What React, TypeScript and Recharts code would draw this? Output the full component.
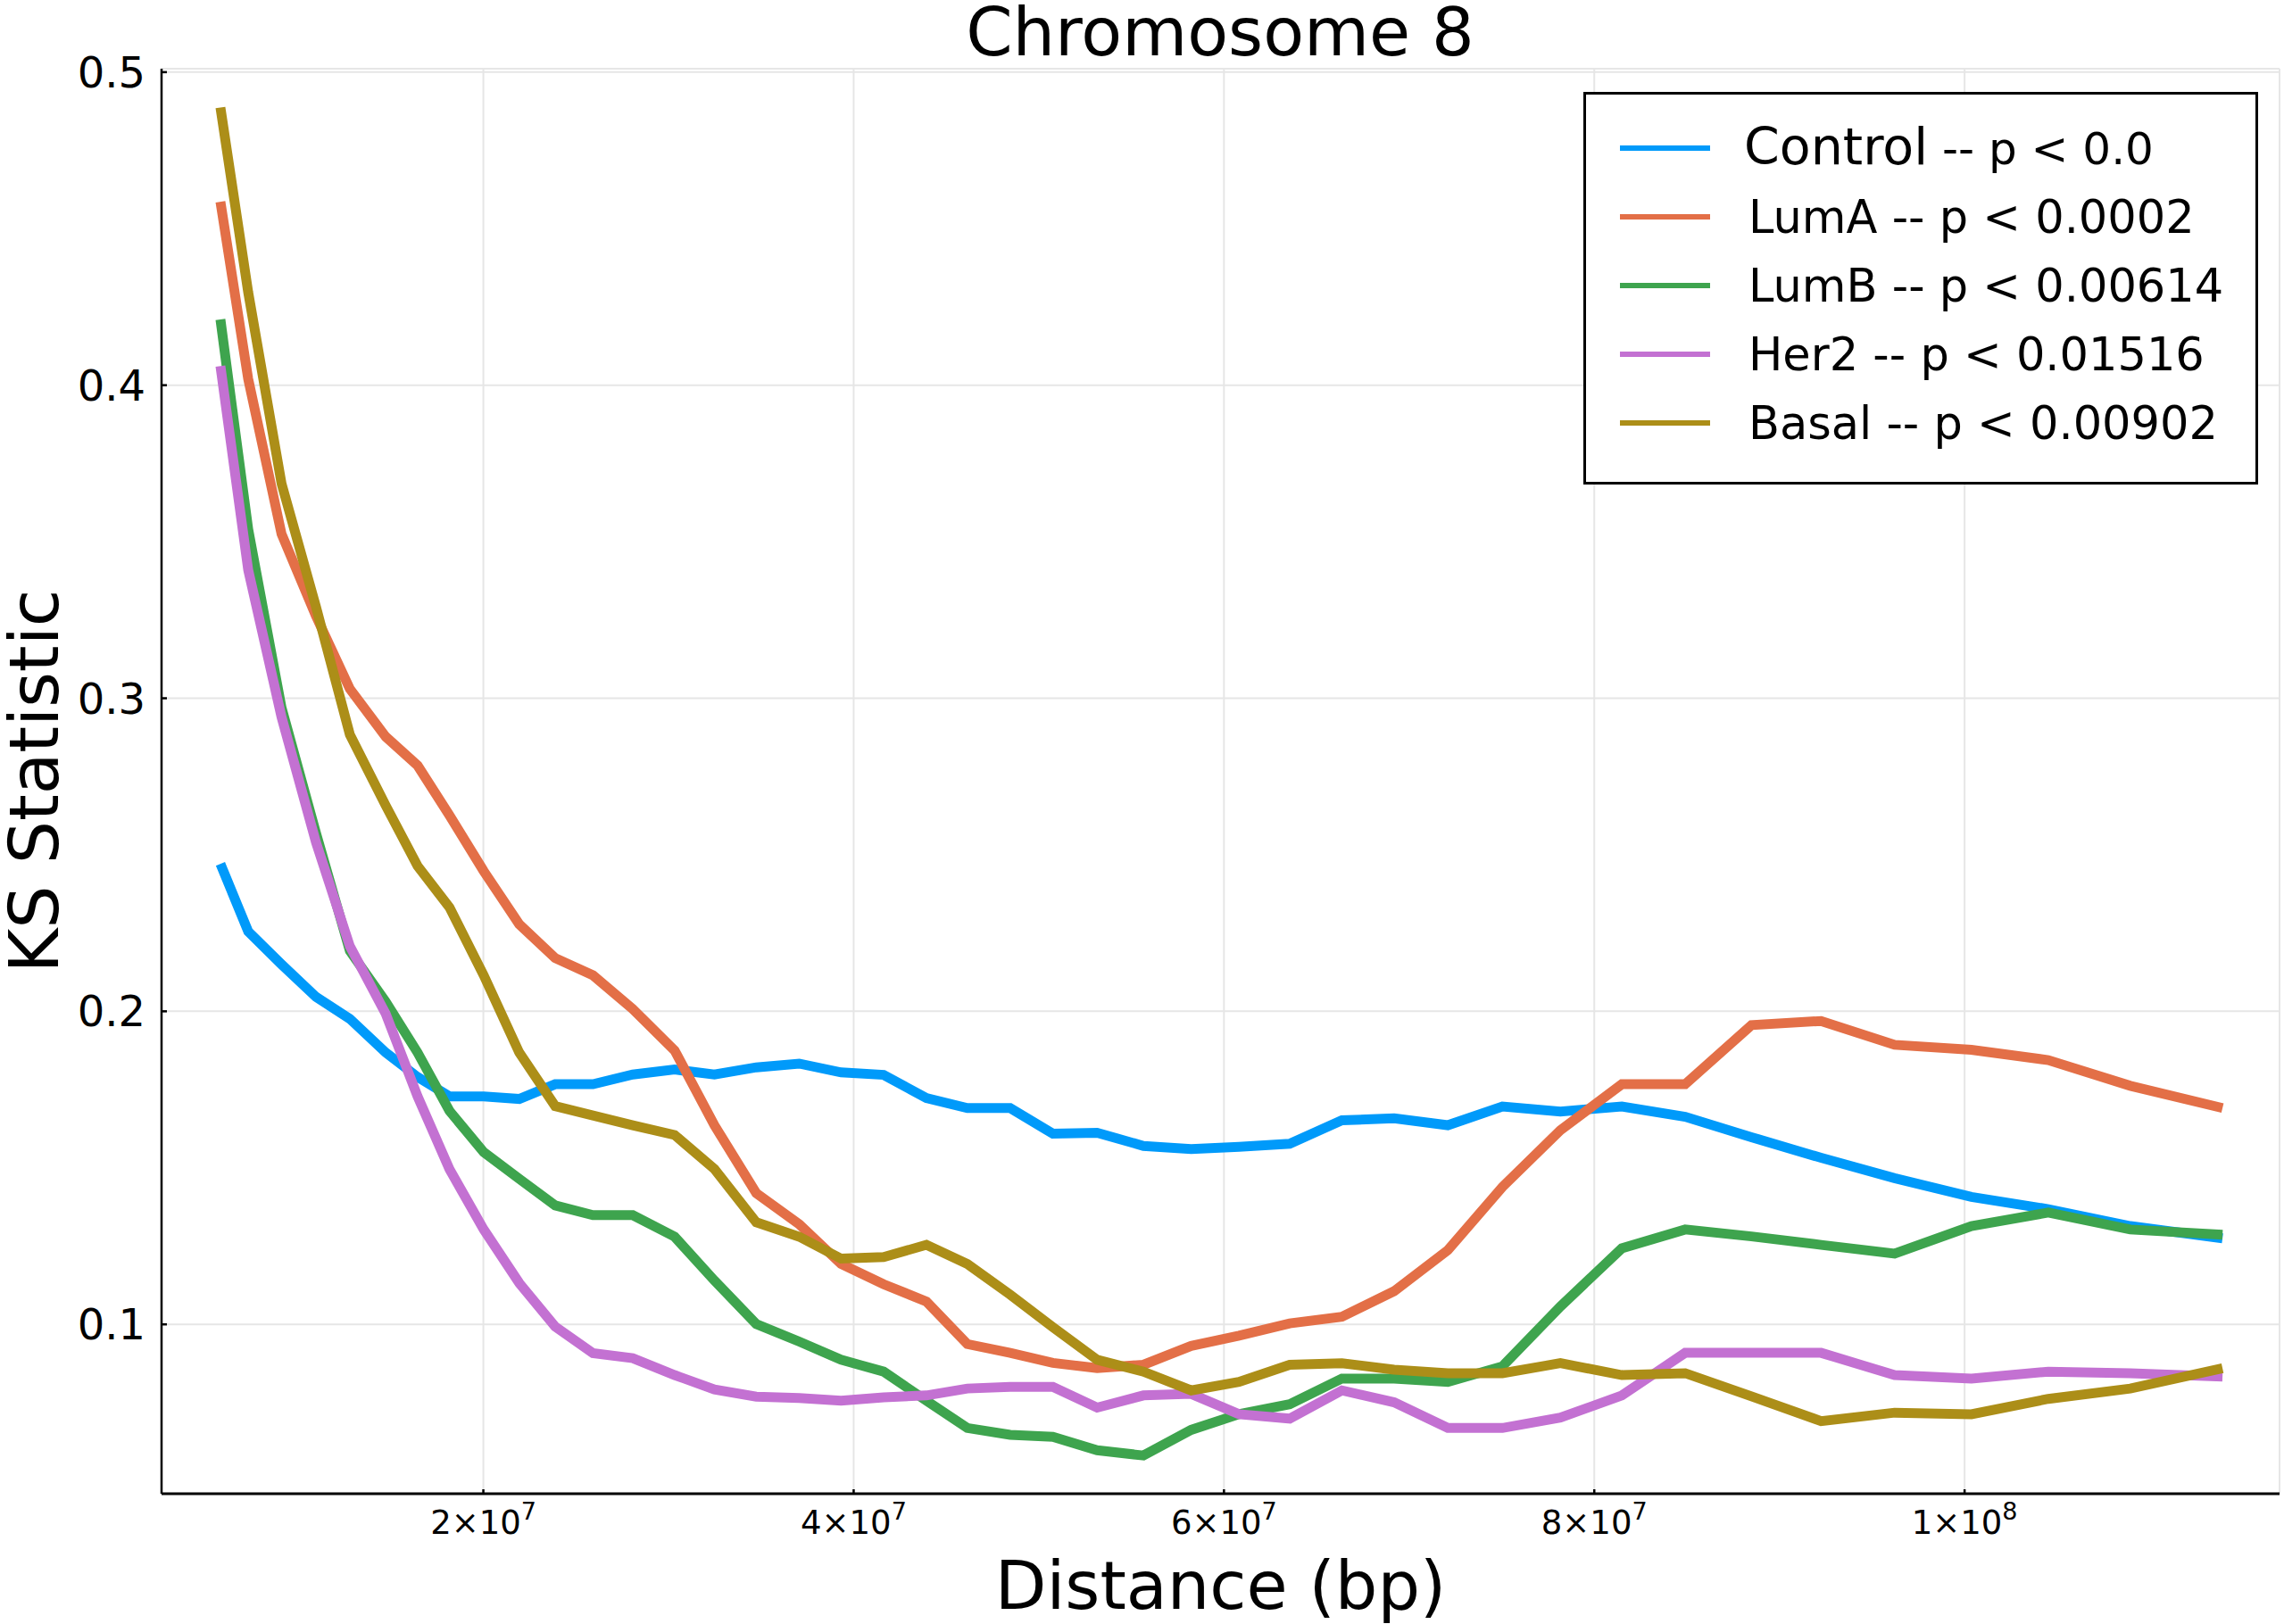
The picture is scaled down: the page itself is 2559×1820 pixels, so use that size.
import { LineChart, Line, XAxis, YAxis, CartesianGrid, Legend, Label } from "recharts";

// distance in bp, one entry per window
const distance = [
  5.8e6, 7.3e6, 9.1e6, 1.096e7, 1.279e7, 1.473e7, 1.645e7, 1.817e7, 2.002e7, 2.194e7,
  2.388e7, 2.592e7, 2.807e7, 3.033e7, 3.248e7, 3.474e7, 3.706e7, 3.932e7, 4.162e7, 4.393e7,
  4.614e7, 4.845e7, 5.076e7, 5.315e7, 5.565e7, 5.823e7, 6.081e7, 6.355e7, 6.637e7, 6.919e7,
  7.209e7, 7.504e7, 7.817e7, 8.149e7, 8.491e7, 8.849e7, 9.225e7, 9.622e7, 1.0037e8, 1.0452e8,
  1.0895e8, 1.1393e8,
];

const control = [
  0.2471, 0.2255, 0.215, 0.2046, 0.1976, 0.1868, 0.179, 0.1728, 0.1728, 0.172,
  0.1767, 0.1767, 0.1798, 0.1814, 0.1798, 0.1821, 0.1833, 0.1805, 0.1797, 0.1723,
  0.1691, 0.1691, 0.1609, 0.1612, 0.157, 0.156, 0.1567, 0.1577, 0.1652, 0.1658,
  0.1636, 0.1696, 0.168, 0.1696, 0.1663, 0.1598, 0.1532, 0.1467, 0.1407, 0.1368,
  0.1314, 0.1275,
];

const lumA = [
  0.4586, 0.402, 0.3525, 0.3263, 0.303, 0.2877, 0.2785, 0.2626, 0.2448, 0.2278,
  0.217, 0.2115, 0.2007, 0.1875, 0.1636, 0.1419, 0.132, 0.1193, 0.1128, 0.1073,
  0.0937, 0.0909, 0.0877, 0.086, 0.0871, 0.0931, 0.0964, 0.1003, 0.1024, 0.1106,
  0.1237, 0.1439, 0.162, 0.1767, 0.1767, 0.1956, 0.1969, 0.1893, 0.1877, 0.1844,
  0.1762, 0.1691,
];

const lumB = [
  0.421, 0.354, 0.297, 0.257, 0.2193, 0.203, 0.1868, 0.1682, 0.155, 0.1465,
  0.138, 0.1349, 0.1349, 0.128, 0.114, 0.1001, 0.0945, 0.0887, 0.0849, 0.0756,
  0.0669, 0.0647, 0.0641, 0.0598, 0.0581, 0.0663, 0.0713, 0.0745, 0.0827, 0.0827,
  0.0816, 0.0866, 0.1057, 0.1243, 0.1303, 0.1281, 0.1254, 0.1226, 0.1314, 0.1357,
  0.1303, 0.1286,
];

const her2 = [
  0.4061, 0.341, 0.294, 0.254, 0.2208, 0.1992, 0.1728, 0.1496, 0.1303, 0.1132,
  0.0993, 0.0908, 0.0892, 0.0838, 0.0792, 0.0769, 0.0765, 0.0756, 0.0767, 0.0773,
  0.0795, 0.08, 0.08, 0.0734, 0.0773, 0.0778, 0.0713, 0.0699, 0.0789, 0.0751,
  0.0669, 0.0669, 0.0702, 0.0773, 0.0909, 0.0909, 0.0909, 0.0838, 0.0827, 0.0849,
  0.0844, 0.0833,
];

const basal = [
  0.4887, 0.4297, 0.3686, 0.3292, 0.2884, 0.2657, 0.2464, 0.2332, 0.2115, 0.1868,
  0.1697, 0.1667, 0.1636, 0.1605, 0.1496, 0.1326, 0.128, 0.121, 0.1215, 0.1254,
  0.1193, 0.1095, 0.0991, 0.0887, 0.0849, 0.0789, 0.0816, 0.0871, 0.0876, 0.0855,
  0.0844, 0.0844, 0.0876, 0.0838, 0.0844, 0.077, 0.0691, 0.0718, 0.0713, 0.0762,
  0.0795, 0.086,
];

const seriesNames = ["Control", "LumA", "LumB", "Her2", "Basal"];
const pValues = ["0.0", "0.0002", "0.00614", "0.01516", "0.00902"];

const xTicks = [2e7, 4e7, 6e7, 8e7, 1e8];
const xTickLabels = ["2×10^7", "4×10^7", "6×10^7", "8×10^7", "1×10^8"];
const yTicks = [0.1, 0.2, 0.3, 0.4, 0.5];
const yTickLabels = ["0.1", "0.2", "0.3", "0.4", "0.5"];

const seriesKeys = ["control", "lumA", "lumB", "her2", "basal"];
const seriesValues = [control, lumA, lumB, her2, basal];
const colors = ["#009AFA", "#E36F47", "#3EA44E", "#C371D2", "#AC8E18"];

const data = distance.map((d, i) => {
  const row: Record<string, number> = { distance: d };
  seriesKeys.forEach((k, j) => {
    row[k] = seriesValues[j][i];
  });
  return row;
});

const FONT = "'DejaVu Sans', sans-serif";

function XTick(props: any) {
  const { x, y, payload } = props;
  const label = xTickLabels[xTicks.indexOf(payload.value)] ?? String(payload.value);
  const [base, exp] = label.split("^");
  return (
    <g>
      <line x1={x} x2={x} y1={y} y2={y - 5} stroke="#000" strokeWidth={2.5} />
      <text x={x} y={y + 45} textAnchor="middle" fontSize={37} fontFamily={FONT} fill="#000">
        {base}
        <tspan dy={-16} fontSize={27}>
          {exp}
        </tspan>
      </text>
    </g>
  );
}

function YTick(props: any) {
  const { x, y, payload } = props;
  const label = yTickLabels[yTicks.indexOf(payload.value)] ?? String(payload.value);
  return (
    <g>
      <line x1={x} x2={x + 6} y1={y} y2={y} stroke="#000" strokeWidth={2.5} />
      <text x={x - 18} y={y + 17} textAnchor="end" fontSize={48} fontFamily={FONT} fill="#000">
        {label}
      </text>
    </g>
  );
}

function LegendBox() {
  return (
    <svg width={756} height={440} style={{ display: "block" }}>
      <rect x={1.5} y={1.5} width={753} height={437} fill="#fff" stroke="#000" strokeWidth={3} />
      {seriesNames.map((name, i) => {
        const rowY = 63 + i * 77;
        const first = i === 0;
        return (
          <g key={name}>
            <line x1={41} x2={142} y1={rowY} y2={rowY} stroke={colors[i]} strokeWidth={6} />
            <text x={first ? 180 : 185} y={rowY + 18} fontFamily={FONT} fontSize={51} fill="#000">
              <tspan fontSize={first ? 57 : 51}>{name}</tspan>
              <tspan fontSize={first ? 50 : 51}>{` -- p < ${pValues[i]}`}</tspan>
            </text>
          </g>
        );
      })}
    </svg>
  );
}

export default function App() {
  return (
    <div
      style={{
        position: "absolute",
        left: 0,
        top: 0,
        width: 2559,
        height: 1820,
        background: "#fff",
        overflow: "hidden",
      }}
    >
      <LineChart
        width={2559}
        height={1820}
        data={data}
        margin={{ top: 77, right: 5, bottom: 0, left: 0 }}
      >
        <CartesianGrid stroke="#e6e6e6" strokeWidth={2} />
        <XAxis
          dataKey="distance"
          type="number"
          domain={[2.62e6, 1.1701e8]}
          allowDataOverflow
          ticks={xTicks}
          interval={0}
          height={146}
          tickSize={0}
          tickMargin={0}
          tickLine={false}
          axisLine={{ stroke: "#000", strokeWidth: 3 }}
          tick={<XTick />}
        >
          <Label
            content={(p: any) => {
              const vb = p.viewBox;
              return (
                <text
                  x={vb.x + vb.width / 2}
                  y={vb.y + vb.height - 17}
                  textAnchor="middle"
                  fontSize={75}
                  fontFamily={FONT}
                  fill="#000"
                >
                  Distance (bp)
                </text>
              );
            }}
          />
        </XAxis>
        <YAxis
          type="number"
          domain={[0.0459, 0.5011]}
          allowDataOverflow
          ticks={yTicks}
          interval={0}
          width={181}
          tickSize={0}
          tickMargin={0}
          tickLine={false}
          axisLine={{ stroke: "#000", strokeWidth: 2.5 }}
          tick={<YTick />}
        >
          <Label
            content={(p: any) => {
              const vb = p.viewBox;
              const cx = 65;
              const cy = vb.y + vb.height / 2;
              return (
                <text
                  x={cx}
                  y={cy}
                  transform={`rotate(-90, ${cx}, ${cy})`}
                  textAnchor="middle"
                  fontSize={76}
                  fontFamily={FONT}
                  fill="#000"
                >
                  KS Statistic
                </text>
              );
            }}
          />
        </YAxis>
        {seriesKeys.map((k, i) => (
          <Line
            key={k}
            dataKey={k}
            name={seriesNames[i]}
            type="linear"
            stroke={colors[i]}
            strokeWidth={11}
            dot={false}
            activeDot={false}
            isAnimationActive={false}
          />
        ))}
        <Legend
          layout="vertical"
          align="center"
          verticalAlign="middle"
          wrapperStyle={{ left: 1774, top: 103, width: 756, height: 440 }}
          content={() => <LegendBox />}
        />
      </LineChart>
      <svg
        width={2559}
        height={100}
        style={{ position: "absolute", left: 0, top: 0, pointerEvents: "none" }}
      >
        <text x={1367} y={62} textAnchor="middle" fontSize={75} fontFamily={FONT} fill="#000">
          Chromosome 8
        </text>
      </svg>
    </div>
  );
}
